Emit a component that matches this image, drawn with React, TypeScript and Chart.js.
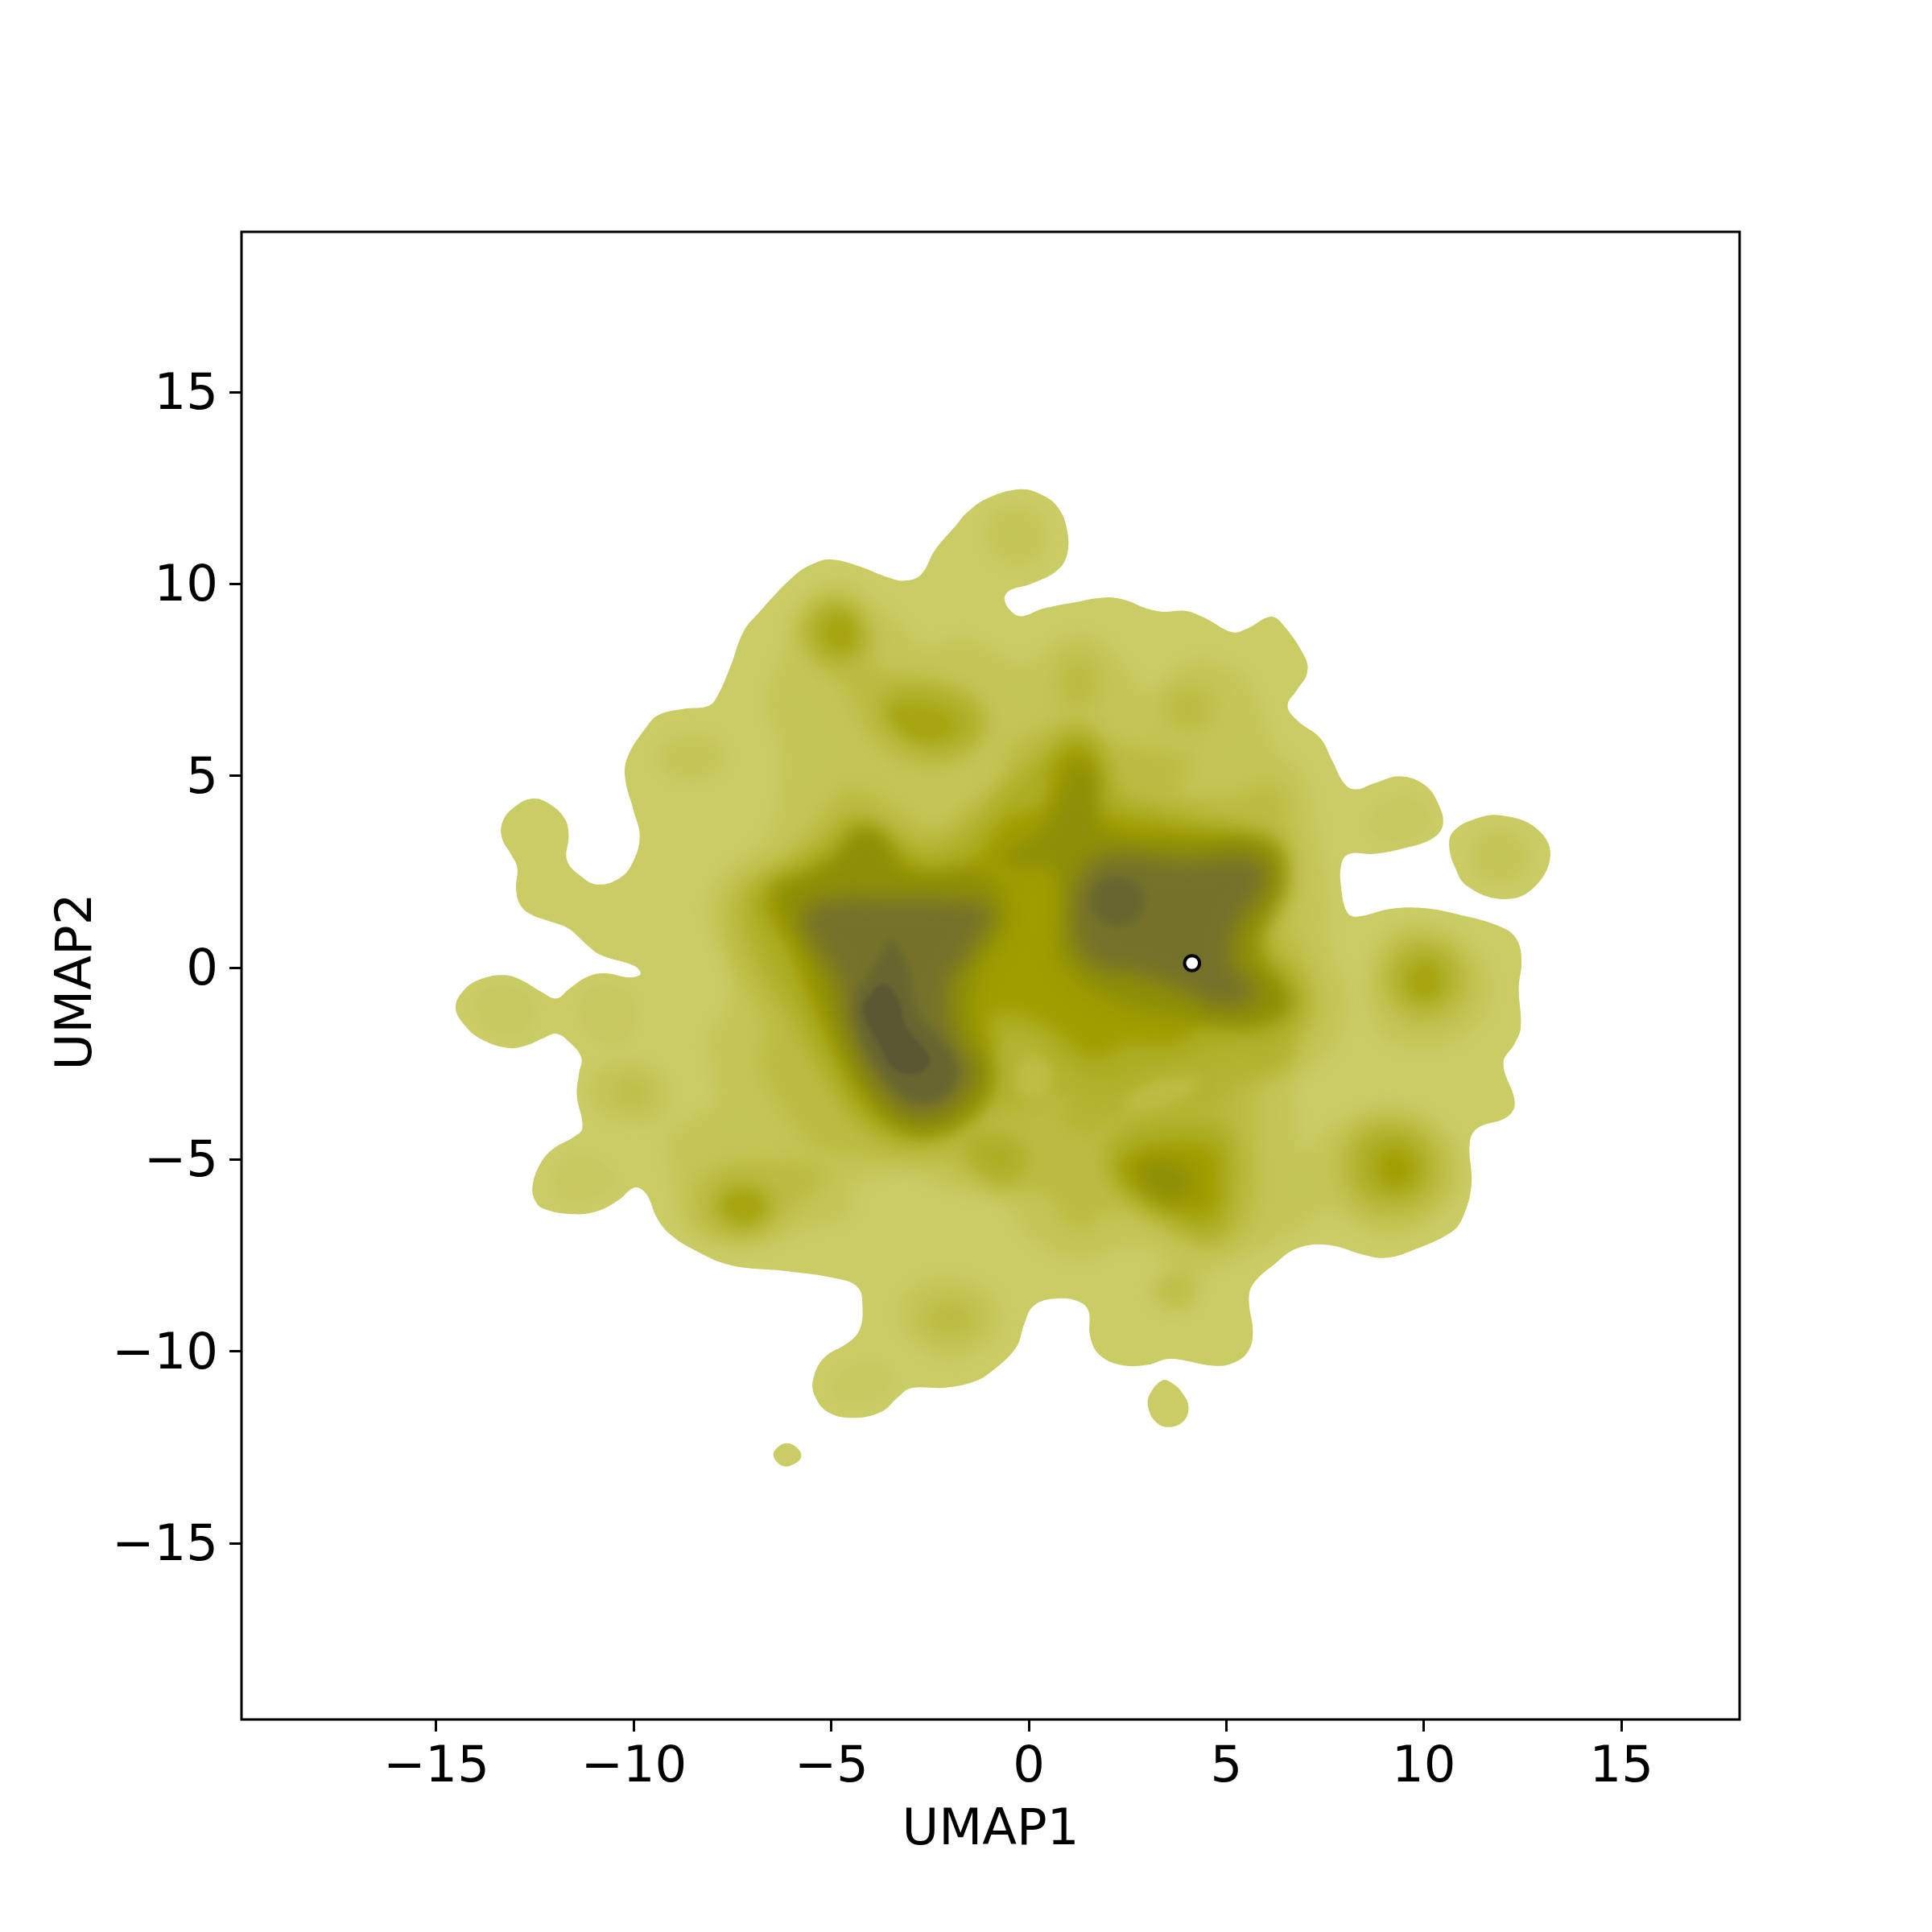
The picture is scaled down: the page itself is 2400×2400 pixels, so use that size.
import React, { useEffect, useRef } from "react";
import { Chart, registerables } from "chart.js";

type P = [number, number];

const xTickValues = [-15, -10, -5, 0, 5, 10, 15];
const yTickValues = [-15, -10, -5, 0, 5, 10, 15];
const markerPoint: P = [4.13, 0.12];

// outer density contour
const outerMain: P[] = [[-1.59,11.84],[-1.1,12.21],[-0.22,12.47],[0.36,12.31],[0.75,11.98],[0.965,11.42],[0.965,10.76],[0.7,10.34],[0.07,10.01],[-0.52,9.81],[-0.61,9.56],[-0.37,9.22],[-0.13,9.17],[0.36,9.36],[1.14,9.52],[1.92,9.65],[2.41,9.59],[2.99,9.36],[3.38,9.28],[3.97,9.3],[4.45,9.12],[5.14,8.75],[5.53,8.84],[6.11,9.15],[6.4,8.98],[6.99,8.09],[7.04,7.67],[6.79,7.25],[6.55,6.83],[6.79,6.45],[7.38,5.98],[7.67,5.42],[8.01,4.77],[8.3,4.65],[8.74,4.81],[9.42,4.99],[10.01,4.77],[10.35,4.3],[10.48,3.73],[10.2,3.36],[9.52,3.12],[8.74,2.97],[8.11,2.97],[7.91,2.7],[7.91,2.05],[8.06,1.44],[8.3,1.33],[9.13,1.53],[9.91,1.56],[10.79,1.41],[11.96,1.06],[12.35,0.74],[12.47,0.17],[12.4,-0.52],[12.45,-1.55],[12.3,-1.97],[12.01,-2.48],[12.3,-3.51],[12.1,-3.89],[11.37,-4.17],[11.16,-4.55],[11.2,-5.67],[10.98,-6.51],[10.69,-6.89],[9.62,-7.4],[9.03,-7.56],[8.55,-7.5],[7.57,-7.22],[6.79,-7.31],[6.21,-7.73],[5.67,-8.25],[5.57,-8.67],[5.67,-9.51],[5.53,-10.03],[5.14,-10.31],[4.65,-10.37],[3.58,-10.19],[2.99,-10.35],[2.31,-10.35],[1.77,-10.07],[1.55,-9.6],[1.51,-8.95],[1.29,-8.71],[0.7,-8.62],[0.12,-8.81],[-0.13,-9.32],[-0.32,-9.89],[-0.91,-10.49],[-1.37,-10.78],[-2.1,-10.94],[-3.0,-10.96],[-3.32,-11.2],[-3.73,-11.57],[-4.46,-11.73],[-5.1,-11.57],[-5.42,-11.15],[-5.46,-10.73],[-5.19,-10.17],[-4.55,-9.75],[-4.28,-9.42],[-4.21,-8.86],[-4.32,-8.34],[-4.82,-8.11],[-6.19,-7.9],[-7.55,-7.75],[-8.46,-7.36],[-9.1,-6.93],[-9.42,-6.51],[-9.65,-5.95],[-9.87,-5.74],[-10.05,-5.76],[-10.37,-6.04],[-10.92,-6.34],[-11.56,-6.42],[-12.28,-6.28],[-12.51,-6.04],[-12.56,-5.67],[-12.37,-5.11],[-12.06,-4.73],[-11.51,-4.4],[-11.3,-4.17],[-11.44,-3.33],[-11.39,-2.77],[-11.33,-2.34],[-11.65,-1.92],[-11.96,-1.72],[-12.28,-1.83],[-12.74,-2.03],[-13.19,-2.09],[-13.83,-1.88],[-14.28,-1.5],[-14.51,-1.03],[-14.28,-0.56],[-13.83,-0.28],[-13.28,-0.19],[-12.83,-0.33],[-12.37,-0.61],[-11.96,-0.8],[-11.65,-0.56],[-11.19,-0.24],[-10.74,-0.14],[-10.1,-0.25],[-9.83,-0.16],[-9.99,0.05],[-10.83,0.33],[-11.19,0.6],[-11.65,1.02],[-12.1,1.2],[-12.6,1.39],[-12.87,1.63],[-12.98,2.05],[-12.95,2.61],[-13.1,2.94],[-13.33,3.36],[-13.33,3.78],[-13.06,4.16],[-12.56,4.41],[-12.1,4.25],[-11.74,3.87],[-11.65,3.45],[-11.69,2.8],[-11.33,2.38],[-10.92,2.17],[-10.37,2.33],[-10.05,2.7],[-9.85,3.41],[-10.01,4.11],[-10.22,4.95],[-10.15,5.51],[-9.69,6.26],[-9.37,6.59],[-8.74,6.75],[-8.1,6.83],[-7.87,7.11],[-7.55,7.86],[-7.23,8.75],[-6.83,9.26],[-5.96,10.2],[-5.46,10.53],[-5.01,10.64],[-4.28,10.46],[-3.55,10.17],[-3.14,10.09],[-2.73,10.25],[-2.37,10.9],[-1.82,11.56]];
const outerRightIsland: P[] = [[11.96,3.97],[11.27,3.87],[10.74,3.55],[10.64,3.17],[10.79,2.61],[11.08,2.14],[11.96,1.79],[12.74,2.05],[13.2,2.93],[12.84,3.64]];
const outerLowerIsland: P[] = [[3.38,-10.75],[3.09,-11.06],[3.01,-11.39],[3.19,-11.81],[3.53,-11.97],[3.92,-11.81],[4.04,-11.43],[3.87,-11.06],[3.62,-10.82]];
const outerTinyIsland: P[] = [[-6.14,-12.39],[-6.42,-12.56],[-6.46,-12.74],[-6.28,-12.96],[-6.05,-12.98],[-5.78,-12.79],[-5.82,-12.56]];

// faint lobes
const faintLobeW: P[] = [[-14.0,-1.0],[-13.6,-0.5],[-12.9,-0.55],[-12.5,-1.1],[-12.9,-1.7],[-13.6,-1.6]];
const faintLobeW2: P[] = [[-11.4,-1.1],[-11.0,-0.5],[-10.2,-0.6],[-9.9,-1.3],[-10.4,-2.0],[-11.0,-1.8]];
const faintLobeSW: P[] = [[-12.0,-5.5],[-11.5,-4.9],[-10.8,-5.1],[-10.5,-5.6],[-11.1,-6.0],[-11.8,-6.0]];
const faintLobeNE: P[] = [[8.6,3.8],[9.2,4.4],[10.0,4.3],[10.1,3.7],[9.4,3.3],[8.8,3.4]];
const faintLobeS: P[] = [[-5.0,-11.0],[-4.5,-10.4],[-3.6,-10.4],[-3.6,-11.0],[-4.4,-11.3]];

// level 1
const l1Main: P[] = [[-4.82,10.01],[-5.92,9.26],[-6.19,8.33],[-6.64,6.92],[-6.28,5.51],[-6.64,3.45],[-7.73,2.42],[-8.1,1.49],[-7.55,-0.11],[-7.64,-0.99],[-8.1,-1.83],[-8.0,-2.86],[-7.96,-3.51],[-9.1,-4.36],[-9.0,-5.58],[-8.55,-6.89],[-7.1,-7.2],[-5.55,-6.79],[-4.55,-6.42],[-4.37,-5.67],[-3.0,-5.3],[-2.1,-5.76],[-0.6,-6.14],[-0.03,-6.98],[1.24,-7.64],[2.6,-7.26],[3.58,-7.83],[3.28,-8.48],[3.77,-8.9],[4.21,-8.48],[4.26,-8.11],[5.43,-7.54],[6.7,-6.9],[7.57,-6.33],[9.13,-6.98],[10.6,-6.14],[11.0,-5.2],[10.4,-4.17],[9.13,-3.61],[7.67,-4.17],[6.99,-4.73],[6.79,-3.98],[6.79,-2.95],[7.67,-2.2],[8.06,-0.8],[7.6,0.6],[7.57,1.77],[7.28,3.64],[6.89,5.05],[6.2,5.8],[5.57,7.39],[4.84,7.95],[3.97,7.95],[3.09,7.2],[2.5,7.76],[1.82,8.51],[1.24,8.7],[0.46,8.32],[-0.13,7.9],[-1.0,8.32],[-1.73,8.6],[-2.64,8.4],[-3.28,9.0],[-4.1,9.64]];
const l1TopLobe: P[] = [[-1.1,11.2],[-0.8,11.9],[-0.2,12.05],[0.3,11.7],[0.4,11.0],[0.0,10.55],[-0.6,10.55]];
const l1LeftPeak: P[] = [[-9.4,5.5],[-8.9,6.0],[-8.1,6.0],[-7.7,5.5],[-8.1,5.0],[-8.9,4.95]];
const l1RightPeak: P[] = [[8.6,-0.4],[9.0,0.8],[10.0,1.1],[11.2,0.5],[11.7,-0.6],[11.1,-1.7],[10.0,-2.1],[8.9,-1.7]];
const l1LowerPeak: P[] = [[-3.28,-8.95],[-3.0,-8.39],[-2.1,-8.06],[-1.0,-8.48],[-0.73,-9.32],[-1.37,-9.98],[-2.1,-10.17],[-3.0,-9.6]];
const l1FarLeftPeak: P[] = [[-11.19,-3.23],[-10.83,-2.67],[-10.05,-2.44],[-9.28,-2.86],[-9.15,-3.5],[-9.46,-3.98],[-10.28,-3.98],[-10.92,-3.7]];
const l1IslandPeak: P[] = [[11.2,3.0],[11.5,3.5],[12.1,3.6],[12.6,3.2],[12.5,2.5],[12.0,2.2],[11.4,2.4]];

// level 2
const l2Main: P[] = [[-7.73,1.49],[-7.19,2.42],[-6.2,2.9],[-5.28,4.0],[-4.55,4.77],[-3.46,4.3],[-2.37,3.64],[-1.64,4.2],[-0.57,5.05],[-0.6,5.7],[0.36,6.27],[1.24,6.45],[2.02,5.98],[2.8,5.8],[3.87,5.6],[4.16,5.23],[3.77,4.6],[4.6,4.5],[5.23,4.58],[6.0,4.86],[6.5,4.58],[6.6,3.64],[6.79,2.24],[6.6,1.3],[7.18,-0.1],[7.38,-1.04],[7.18,-1.64],[6.0,-2.5],[5.8,-4.3],[5.8,-6.2],[5.04,-7.26],[4.06,-7.17],[2.31,-6.33],[1.2,-6.9],[0.36,-5.95],[-0.42,-5.85],[-2.1,-5.2],[-3.9,-5.0],[-5.19,-4.83],[-5.73,-4.45],[-6.83,-2.67],[-6.74,-1.45],[-7.37,-0.11]];
const l2SouthWest: P[] = [[-8.55,-6.14],[-8.19,-5.3],[-7.1,-5.0],[-5.19,-5.11],[-5.19,-5.67],[-6.19,-6.51],[-7.1,-7.08],[-8.19,-6.8]];
const l2North: P[] = [[-5.73,8.7],[-5.37,9.45],[-4.73,9.54],[-4.1,8.89],[-3.9,7.95],[-2.1,7.48],[-1.19,6.92],[-1.19,5.89],[-2.1,5.23],[-3.2,5.33],[-4.1,6.08],[-4.73,7.3],[-5.37,7.95]];
const l2East: P[] = [[8.9,-0.3],[9.3,0.6],[10.0,0.8],[10.8,0.4],[11.2,-0.4],[10.8,-1.2],[10.0,-1.5],[9.3,-1.2]];
const l2SouthEast: P[] = [[7.8,-5.2],[8.2,-4.2],[9.2,-3.9],[10.2,-4.3],[10.6,-5.3],[10.2,-6.2],[9.2,-6.6],[8.2,-6.2]];
const l2LowerPeak: P[] = [[-2.73,-9.04],[-2.1,-8.57],[-1.27,-8.95],[-1.46,-9.51],[-2.1,-9.7],[-2.64,-9.4]];
const l2FarLeft: P[] = [[-10.46,-3.23],[-10.05,-2.86],[-9.6,-3.23],[-10.0,-3.6]];
const l2South: P[] = [[3.2,-8.4],[3.75,-8.0],[4.15,-8.3],[3.8,-8.8]];
const l2TopNorth: P[] = [[0.7,7.5],[1.0,8.1],[1.5,8.1],[1.8,7.5],[1.6,6.8],[0.9,6.8]];
const l2NorthEast: P[] = [[3.4,6.7],[3.7,7.3],[4.4,7.3],[4.7,6.7],[4.2,6.1],[3.7,6.2]];

// lower centre shelf and its two lighter hollows
const shelfCentre: P[] = [[-1.0,-2.6],[0.2,-1.9],[6.5,-1.6],[6.6,-2.6],[5.2,-3.1],[4.9,-3.6],[2.5,-3.8],[1.6,-4.3],[0.9,-4.1],[0.9,-3.3],[0.0,-3.7],[-0.9,-3.6]];
const hollowA: P[] = [[-0.35,-2.9],[0.05,-2.25],[0.5,-2.45],[0.55,-3.05],[0.1,-3.5]];
const hollowB: P[] = [[2.4,-3.65],[3.0,-3.0],[4.2,-2.85],[4.3,-3.05],[3.5,-3.6],[2.9,-3.8]];

// level 3
const l3Main: P[] = [[-7.2,1.77],[-6.3,2.6],[-5.4,3.2],[-4.37,4.0],[-3.3,3.4],[-2.37,3.17],[-1.19,4.0],[-0.6,4.77],[0.46,5.7],[1.24,6.26],[2.07,5.4],[2.3,4.58],[4.26,4.0],[6.21,3.36],[6.5,2.24],[5.91,1.0],[6.7,-0.1],[7.0,-0.85],[6.5,-1.83],[5.04,-2.2],[3.09,-2.8],[1.72,-3.15],[0.36,-2.1],[-0.42,-1.92],[-0.81,-2.67],[-1.0,-3.5],[-2.55,-4.64],[-4.1,-4.26],[-5.19,-2.86],[-6.1,-1.17],[-6.83,0.14]];
const l3SouthPeak: P[] = [[1.92,-4.83],[2.5,-4.08],[4.65,-3.89],[5.23,-4.55],[5.23,-6.14],[4.65,-7.07],[3.48,-6.61],[2.21,-5.76]];
const l3SouthSpur: P[] = [[-1.59,-4.45],[-0.6,-4.36],[-0.03,-4.92],[-0.52,-5.58],[-1.3,-5.3]];
const l3NorthA: P[] = [[-5.6,8.8],[-5.2,9.45],[-4.7,9.5],[-4.15,8.9],[-4.2,8.2],[-4.8,7.95],[-5.3,8.1]];
const l3NorthB: P[] = [[-3.8,6.92],[-3.28,7.3],[-2.1,7.2],[-1.27,6.64],[-1.27,6.08],[-2.1,5.6],[-2.8,5.7],[-3.64,6.27]];
const l3EastPeak: P[] = [[9.2,-0.3],[9.5,0.35],[10.0,0.55],[10.6,0.3],[10.8,-0.3],[10.5,-0.9],[10.0,-1.1],[9.5,-0.9]];
const l3SouthEastPeak: P[] = [[8.2,-5.1],[8.5,-4.4],[9.2,-4.2],[9.9,-4.5],[10.2,-5.2],[9.9,-5.9],[9.2,-6.1],[8.5,-5.9]];
const l3SouthWestPeak: P[] = [[-8.0,-6.14],[-7.73,-5.67],[-7.19,-5.53],[-6.55,-5.86],[-6.5,-6.42],[-7.19,-6.84],[-7.83,-6.61]];

// small peak tops between levels 3 and 4
const topNorthA: P[] = [[-5.2,8.75],[-4.85,9.2],[-4.45,8.95],[-4.5,8.35],[-4.95,8.3]];
const topNorthB: P[] = [[-3.4,6.8],[-2.2,6.7],[-1.9,6.2],[-2.6,5.9],[-3.3,6.25]];
const topEast: P[] = [[9.6,-0.3],[10.0,0.15],[10.4,-0.2],[10.3,-0.7],[9.8,-0.75]];
const topSouthWest: P[] = [[-7.8,-6.2],[-7.2,-5.8],[-6.7,-6.2],[-7.2,-6.65]];

// level 4
const l4Main: P[] = [[-6.64,1.58],[-6.46,2.05],[-5.55,2.42],[-4.8,2.9],[-4.2,3.55],[-3.2,2.8],[-2.37,2.42],[-1.46,2.8],[-0.57,3.9],[0.46,4.3],[0.55,5.2],[1.24,5.8],[1.72,5.05],[1.33,4.3],[3.28,3.73],[5.82,3.08],[6.11,2.24],[5.43,0.64],[5.72,0.14],[6.3,-0.7],[6.0,-1.27],[4.65,-1.36],[3.67,-2.0],[2.5,-2.0],[1.63,-2.35],[0.36,-1.45],[-0.6,-1.17],[-1.0,-1.36],[-1.0,-2.0],[-1.19,-3.42],[-2.1,-4.17],[-3.2,-4.17],[-4.19,-3.5],[-4.82,-2.39],[-5.28,-1.45],[-5.64,-0.58],[-6.1,0.55]];
const l4South: P[] = [[2.26,-5.2],[3.09,-4.64],[4.65,-4.69],[4.84,-5.58],[4.65,-6.42],[4.16,-6.51],[2.99,-5.95]];
const l4SouthEast: P[] = [[8.8,-5.2],[9.2,-4.7],[9.7,-5.0],[9.7,-5.5],[9.2,-5.75]];

// level 5
const l5Left: P[] = [[-6.45,2.0],[-5.77,2.35],[-4.9,2.9],[-4.35,3.55],[-3.7,3.45],[-3.12,2.55],[-1.09,2.45],[-0.53,1.25],[-1.25,-0.03],[-1.4,-1.48],[-0.94,-2.76],[-1.4,-3.73],[-2.81,-4.3],[-4.05,-3.4],[-5.15,-1.16],[-5.77,0.45]];
const l5Right: P[] = [[-0.6,3.0],[0.2,3.45],[0.8,4.6],[1.25,5.45],[1.75,4.8],[1.87,3.66],[3.59,3.34],[6.08,3.28],[6.45,2.22],[5.83,0.45],[6.64,-0.9],[5.61,-1.54],[3.9,-1.32],[2.03,-0.84],[0.78,0.29],[0.84,1.73],[0.47,2.6],[-0.47,2.6]];
const l5South: P[] = [[2.8,-5.1],[3.8,-5.1],[4.2,-5.7],[3.7,-6.1],[3.0,-5.8]];

// level 6
const l6Left: P[] = [[-5.74,1.25],[-5.3,1.73],[-3.59,1.8],[-1.71,1.73],[-0.94,1.48],[-1.56,0.29],[-2.03,-0.51],[-1.87,-1.8],[-1.4,-2.76],[-2.03,-3.63],[-2.81,-3.89],[-3.74,-3.24],[-4.52,-1.8],[-4.9,-0.19]];
const l6Right: P[] = [[1.4,2.54],[2.18,2.96],[3.9,2.79],[5.61,2.86],[6.02,2.31],[5.3,1.09],[5.15,0.13],[5.77,-0.67],[4.83,-1.0],[3.74,-0.51],[2.81,-0.19],[1.56,0.13],[1.09,1.25]];

// level 7
const l7Left: P[] = [[-3.9,-0.03],[-3.52,0.71],[-3.12,0.13],[-2.81,-1.16],[-1.87,-2.44],[-2.03,-3.24],[-2.81,-3.5],[-3.59,-2.92],[-4.3,-1.64],[-4.37,-0.67]];
const l7Right: P[] = [[1.6,1.7],[1.8,2.2],[2.3,2.35],[2.8,2.1],[2.9,1.6],[2.5,1.15],[1.9,1.2]];

// level 8
const l8Left: P[] = [[-3.69,-0.42],[-4.14,-0.89],[-4.19,-1.17],[-3.78,-2.02],[-3.46,-2.58],[-3.0,-2.78],[-2.6,-2.62],[-2.53,-2.3],[-3.1,-1.55],[-3.32,-0.8]];

const levels: P[][][] = [
  [outerMain, outerRightIsland, outerLowerIsland, outerTinyIsland],
  [faintLobeW, faintLobeW2, faintLobeSW, faintLobeNE, faintLobeS],
  [l1Main, l1TopLobe, l1LeftPeak, l1RightPeak, l1LowerPeak, l1FarLeftPeak, l1IslandPeak],
  [l2Main, l2SouthWest, l2North, l2East, l2SouthEast, l2LowerPeak, l2FarLeft, l2South, l2TopNorth, l2NorthEast],
  [shelfCentre],
  [hollowA, hollowB],
  [l3Main, l3SouthPeak, l3SouthSpur, l3NorthA, l3NorthB, l3EastPeak, l3SouthEastPeak, l3SouthWestPeak],
  [topNorthA, topNorthB, topEast, topSouthWest],
  [l4Main, l4South, l4SouthEast],
  [l5Left, l5Right, l5South],
  [l6Left, l6Right],
  [l7Left, l7Right],
  [l8Left],
];
const levelColors = ["#CACC66", "#C7C85E", "#C5C658", "#BCBC44", "#B4B432", "#BEBE46", "#AEAE26", "#A6A612", "#9E9E00", "#8E8E08", "#74722A", "#686530", "#5A5733"];
const levelBlurs = [0, 6, 9, 12, 12, 9, 12, 7, 11, 12, 13, 6, 2];

const FONT = "'DejaVu Sans'";
const FS = 62.5;

const blurPlugin = {
  id: "contourBlur",
  beforeDatasetDraw(chart: any, args: any) {
    const b = chart.data.datasets[args.index].contourBlur;
    if (b) chart.ctx.filter = `blur(${b}px)`;
  },
  afterDatasetDraw(chart: any) {
    chart.ctx.filter = "none";
  },
};
const framePlugin = {
  id: "frame",
  afterDraw(chart: any) {
    const { ctx, chartArea: a } = chart;
    ctx.save();
    ctx.strokeStyle = "#000";
    ctx.lineWidth = 3;
    ctx.strokeRect(a.left, a.top, a.right - a.left, a.bottom - a.top);
    ctx.restore();
  },
};
Chart.register(blurPlugin);
Chart.register(...registerables);

const fmt = (v: number) => String(v).replace("-", "\u2212");

export default function App() {
  const ref = useRef<HTMLCanvasElement>(null);
  useEffect(() => {
    const rings: any[] = [];
    levels.forEach((lv, i) =>
      lv.forEach((ring) =>
        rings.push({
          type: "scatter",
          showLine: true,
          // wrap round the ring so the spline has no seam where it closes
          data: [ring[ring.length - 1], ...ring, ring[0], ring[1]].map(([x, y]) => ({ x, y })),
          fill: "shape",
          backgroundColor: levelColors[i],
          borderWidth: 0,
          borderColor: "transparent",
          pointRadius: 0,
          tension: 0.4,
          contourBlur: levelBlurs[i],
        })
      )
    );
    const marker = {
      type: "scatter",
      data: [{ x: markerPoint[0], y: markerPoint[1] }],
      pointRadius: 9.3,
      pointBorderWidth: 4,
      pointBackgroundColor: "#fff",
      pointBorderColor: "#000",
    };
    const chart = new Chart(ref.current!, {
      type: "scatter",
      data: { datasets: [marker, ...rings.reverse()] as any },
      plugins: [framePlugin],
      options: {
        animation: false,
        responsive: false,
        layout: { padding: { top: 288, right: 239, left: 0, bottom: 0 } },
        plugins: { legend: { display: false }, tooltip: { enabled: false } },
        scales: {
          x: {
            type: "linear",
            min: -19.93,
            max: 17.99,
            afterBuildTicks: (s: any) => { s.ticks = xTickValues.map((value) => ({ value })); },
            afterFit: (s: any) => { s.height = 264; },
            grid: { display: true, drawOnChartArea: false, drawTicks: true, tickLength: 15, tickWidth: 3, tickColor: "#000" },
            border: { display: false },
            ticks: { autoSkip: false, maxRotation: 0, padding: 8, color: "#000", font: { family: FONT, size: FS }, callback: (v: any) => fmt(v) },
            title: { display: true, text: "UMAP1", color: "#000", font: { family: FONT, size: FS }, padding: { top: 0, bottom: 88 } },
          },
          y: {
            type: "linear",
            min: -19.59,
            max: 19.18,
            afterBuildTicks: (s: any) => { s.ticks = yTickValues.map((value) => ({ value })); },
            afterFit: (s: any) => { s.width = 300; },
            afterUpdate: (s: any) => {
              if (s.titleShifted) return;
              s.titleShifted = true;
              const drawTitle = s.drawTitle.bind(s);
              s.drawTitle = () => {
                s.ctx.save();
                s.ctx.translate(0, 7.5);
                drawTitle();
                s.ctx.restore();
              };
            },
            grid: { display: true, drawOnChartArea: false, drawTicks: true, tickLength: 15, tickWidth: 3, tickColor: "#000" },
            border: { display: false },
            ticks: { autoSkip: false, padding: 14, labelOffset: 4.5, color: "#000", font: { family: FONT, size: FS }, callback: (v: any) => fmt(v) },
            title: { display: true, text: "UMAP2", color: "#000", font: { family: FONT, size: FS }, padding: { top: 59, bottom: 0 } },
          },
        },
      },
    });
    return () => chart.destroy();
  }, []);
  return (
    <div style={{ position: "absolute", left: 0, top: 0, width: 2400, height: 2400, background: "#fff" }}>
      <canvas ref={ref} width={2400} height={2400} style={{ display: "block" }} />
    </div>
  );
}
